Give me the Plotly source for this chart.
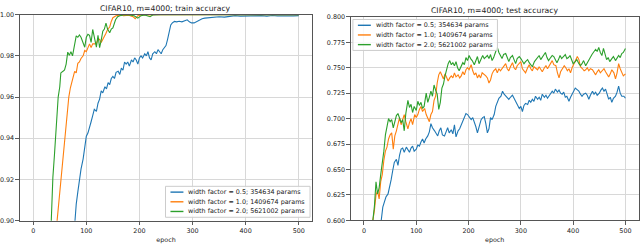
import plotly.graph_objects as go

# ---------------- data ----------------
LABELS = ["width factor = 0.5; 354634 params",
          "width factor = 1.0; 1409674 params",
          "width factor = 2.0; 5621002 params"]
COLORS = ["#1f77b4", "#ff7f0e", "#2ca02c"]

X_TICKS = [0, 100, 200, 300, 400, 500]
Y_TICKS_TRAIN = [0.90, 0.92, 0.94, 0.96, 0.98, 1.00]
Y_TICKS_TEST = [0.600, 0.625, 0.650, 0.675, 0.700, 0.725, 0.750, 0.775, 0.800]

# ---- train accuracy ----
train_ep_w05 = [0, 40, 60, 70, 78, 81, 84, 87, 90, 94, 97, 100,
                103, 106, 109, 112, 115, 119, 122, 125, 128, 131,
                135, 138, 141, 144, 147, 150, 153, 156, 160, 163,
                166, 169, 172, 175, 178, 181, 185, 188, 191, 194,
                197, 200, 203, 206, 210, 213, 216, 219, 222, 225,
                229, 232, 235, 238, 241, 244, 247, 250, 253, 256,
                259, 262, 266, 270, 275, 280, 285, 290, 294, 298,
                303, 308, 313, 318, 323, 330, 340, 350, 360, 370,
                380, 390, 400, 410, 420, 430, 440, 450, 460, 470,
                480, 490, 500]
train_acc_w05 = [0.40, 0.75, 0.83, 0.87, 0.900, 0.908, 0.914, 0.921, 0.925, 0.930, 0.936, 0.941,
                 0.9425, 0.946, 0.948, 0.951, 0.954, 0.953, 0.957, 0.959, 0.963, 0.962,
                 0.965, 0.964, 0.967, 0.966, 0.969, 0.970, 0.969, 0.972, 0.9725, 0.971,
                 0.974, 0.973, 0.977, 0.976, 0.977, 0.975, 0.978, 0.977, 0.979, 0.978,
                 0.976, 0.979, 0.980, 0.979, 0.981, 0.980, 0.982, 0.979, 0.978, 0.981,
                 0.982, 0.981, 0.983, 0.982, 0.981, 0.983, 0.984, 0.985, 0.988, 0.992,
                 0.995, 0.996, 0.9967, 0.9965, 0.9968, 0.9965, 0.997, 0.9975, 0.9965, 0.996,
                 0.996, 0.9968, 0.9972, 0.998, 0.9983, 0.9985, 0.9988, 0.999, 0.9988, 0.9992,
                 0.9995, 0.9993, 0.9994, 0.9996, 0.9994, 0.9995, 0.9993, 0.9996, 0.9994, 0.9993,
                 0.9995, 0.9994, 0.9995]

train_ep_w10 = [0, 20, 35, 45, 49, 53, 56, 59, 63, 67,
                70, 73, 76, 78, 81, 84, 87, 90, 94, 97,
                100, 103, 106, 109, 112, 116, 119, 122, 125, 128,
                131, 134, 137, 140, 144, 147, 150, 156, 160, 165,
                170, 180, 188, 192, 197, 205, 216, 230, 500]
train_acc_w10 = [0.30, 0.65, 0.83, 0.900, 0.911, 0.921, 0.930, 0.940, 0.950, 0.960,
                 0.9645, 0.9675, 0.970, 0.9725, 0.9717, 0.9764, 0.977, 0.9787, 0.980, 0.9826,
                 0.982, 0.984, 0.9858, 0.984, 0.9858, 0.9858, 0.986, 0.988, 0.988, 0.9865,
                 0.988, 0.9889, 0.991, 0.9928, 0.994, 0.9967, 0.9985, 0.9995, 0.9998, 0.9998,
                 0.9995, 0.9997, 0.999, 0.998, 0.9995, 0.9998, 0.9998, 1.0, 1.0]

train_ep_w20 = [0, 15, 25, 34, 37, 40, 42, 44, 47, 50,
                52, 56, 59, 62, 65, 68, 71, 74, 77, 81,
                84, 87, 90, 93, 97, 100, 103, 106, 109, 112,
                116, 119, 122, 125, 128, 131, 134, 137, 140, 144,
                147, 150, 155, 159, 163, 170, 180, 190, 197, 203,
                210, 220, 225, 240, 500]
train_acc_w20 = [0.30, 0.65, 0.82, 0.900, 0.921, 0.932, 0.940, 0.950, 0.960, 0.965,
                 0.9717, 0.9725, 0.9732, 0.976, 0.9818, 0.9803, 0.982, 0.980, 0.985, 0.9897,
                 0.989, 0.9901, 0.989, 0.9873, 0.9842, 0.989, 0.9905, 0.990, 0.9865, 0.9928,
                 0.988, 0.9842, 0.990, 0.984, 0.9875, 0.992, 0.993, 0.9959, 0.993, 0.9912,
                 0.993, 0.9936, 0.9975, 0.999, 0.9995, 0.9998, 0.9998, 0.9995, 0.9983, 0.9995,
                 0.9998, 0.999, 0.9998, 1.0, 1.0]

# ---- test accuracy ----
test_ep_w05 = [0, 15, 25, 33, 36, 39, 42, 46, 49, 52,
               55, 58, 62, 65, 68, 71, 74, 77, 81, 84,
               87, 90, 93, 96, 100, 103, 106, 109, 112, 115,
               118, 122, 125, 128, 131, 135, 138, 141, 144, 147,
               150, 154, 157, 160, 163, 167, 170, 173, 176, 180,
               183, 186, 189, 192, 195, 198, 201, 205, 208, 211,
               214, 217, 220, 224, 227, 230, 233, 236, 239, 242,
               245, 249, 252, 255, 258, 262, 265, 268, 271, 274,
               277, 280, 284, 287, 290, 293, 297, 300, 303, 306,
               309, 313, 316, 319, 322, 325, 328, 332, 335, 338,
               341, 345, 348, 351, 354, 357, 360, 363, 366, 370,
               373, 376, 379, 382, 385, 388, 392, 395, 398, 401,
               404, 408, 411, 414, 417, 420, 424, 427, 430, 433,
               437, 440, 443, 446, 450, 453, 456, 459, 462, 465,
               468, 471, 474, 477, 481, 484, 487, 490, 493, 497,
               500]
test_acc_w05 = [0.45, 0.54, 0.58, 0.600, 0.613, 0.619, 0.623, 0.626, 0.632, 0.640,
                0.649, 0.657, 0.660, 0.654, 0.664, 0.670, 0.671, 0.667, 0.672, 0.670,
                0.667, 0.671, 0.673, 0.668, 0.670, 0.674, 0.673, 0.677, 0.680, 0.676,
                0.680, 0.683, 0.687, 0.695, 0.691, 0.688, 0.685, 0.683, 0.688, 0.691,
                0.684, 0.683, 0.687, 0.691, 0.686, 0.689, 0.685, 0.694, 0.682, 0.688,
                0.690, 0.694, 0.697, 0.700, 0.705, 0.704, 0.702, 0.699, 0.701, 0.697,
                0.692, 0.686, 0.693, 0.699, 0.701, 0.702, 0.695, 0.686, 0.690, 0.701,
                0.699, 0.704, 0.712, 0.716, 0.720, 0.722, 0.727, 0.724, 0.722, 0.720,
                0.719, 0.721, 0.723, 0.720, 0.717, 0.715, 0.710, 0.712, 0.707, 0.713,
                0.715, 0.714, 0.718, 0.716, 0.719, 0.717, 0.722, 0.719, 0.721, 0.718,
                0.724, 0.721, 0.723, 0.720, 0.722, 0.725, 0.727, 0.725, 0.729, 0.726,
                0.728, 0.725, 0.724, 0.726, 0.721, 0.722, 0.717, 0.721, 0.725, 0.727,
                0.730, 0.728, 0.727, 0.724, 0.722, 0.724, 0.725, 0.723, 0.719, 0.723,
                0.727, 0.724, 0.726, 0.723, 0.725, 0.728, 0.730, 0.727, 0.729, 0.724,
                0.719, 0.721, 0.716, 0.720, 0.722, 0.726, 0.732, 0.725, 0.722, 0.722,
                0.720]

test_ep_w10 = [0, 10, 17, 20, 23, 26, 29, 32, 35, 38,
               41, 44, 47, 50, 53, 56, 59, 62, 65, 68,
               71, 74, 77, 80, 84, 87, 90, 93, 97, 100,
               103, 106, 109, 112, 116, 119, 122, 125, 128, 131,
               134, 137, 140, 143, 146, 149, 152, 155, 158, 161,
               164, 167, 170, 173, 176, 180, 183, 186, 189, 192,
               195, 198, 201, 205, 208, 211, 214, 217, 220, 223,
               226, 229, 233, 236, 239, 242, 245, 248, 252, 255,
               258, 261, 265, 268, 271, 274, 277, 280, 284, 287,
               290, 293, 297, 300, 303, 306, 309, 313, 316, 319,
               322, 325, 329, 332, 335, 338, 341, 345, 348, 351,
               354, 357, 360, 363, 367, 370, 373, 376, 379, 383,
               386, 389, 392, 395, 398, 401, 405, 408, 411, 414,
               418, 421, 424, 427, 430, 433, 437, 440, 443, 446,
               449, 452, 456, 459, 462, 465, 468, 471, 474, 478,
               481, 484, 487, 490, 493, 496, 500]
test_acc_w10 = [0.42, 0.53, 0.600, 0.610, 0.625, 0.629, 0.621, 0.638, 0.645, 0.659,
                0.668, 0.672, 0.680, 0.684, 0.686, 0.670, 0.683, 0.688, 0.694, 0.701,
                0.694, 0.699, 0.704, 0.697, 0.690, 0.696, 0.700, 0.694, 0.704, 0.701,
                0.704, 0.709, 0.712, 0.707, 0.710, 0.704, 0.701, 0.697, 0.704, 0.707,
                0.718, 0.722, 0.735, 0.743, 0.746, 0.742, 0.739, 0.744, 0.741, 0.737,
                0.740, 0.742, 0.740, 0.745, 0.741, 0.743, 0.740, 0.742, 0.746, 0.743,
                0.748, 0.750, 0.748, 0.753, 0.747, 0.743, 0.745, 0.740, 0.743, 0.740,
                0.745, 0.744, 0.742, 0.740, 0.735, 0.738, 0.744, 0.747, 0.749, 0.745,
                0.749, 0.747, 0.750, 0.752, 0.754, 0.749, 0.747, 0.751, 0.755, 0.750,
                0.748, 0.752, 0.755, 0.756, 0.749, 0.747, 0.745, 0.750, 0.753, 0.749,
                0.747, 0.751, 0.749, 0.748, 0.751, 0.748, 0.746, 0.750, 0.752, 0.749,
                0.752, 0.755, 0.757, 0.753, 0.752, 0.745, 0.740, 0.746, 0.749, 0.752,
                0.750, 0.747, 0.749, 0.745, 0.750, 0.753, 0.757, 0.761, 0.758, 0.751,
                0.749, 0.747, 0.748, 0.750, 0.747, 0.749, 0.748, 0.745, 0.743, 0.746,
                0.748, 0.745, 0.747, 0.749, 0.746, 0.744, 0.741, 0.744, 0.748, 0.745,
                0.739, 0.745, 0.754, 0.749, 0.746, 0.742, 0.744]

test_ep_w20 = [0, 10, 17, 20, 23, 26, 29, 32, 35, 38,
               41, 44, 47, 50, 53, 56, 59, 62, 65, 68,
               71, 74, 77, 80, 84, 87, 90, 93, 96, 100,
               103, 106, 109, 112, 115, 119, 122, 125, 128, 131,
               134, 137, 140, 143, 146, 149, 152, 155, 158, 161,
               164, 167, 170, 173, 176, 179, 182, 186, 189, 192,
               195, 198, 201, 204, 207, 211, 214, 217, 220, 223,
               227, 230, 233, 236, 239, 242, 245, 248, 252, 255,
               258, 261, 264, 267, 271, 274, 277, 280, 284, 287,
               290, 293, 297, 300, 303, 306, 309, 313, 316, 319,
               322, 326, 329, 332, 335, 338, 341, 344, 347, 350,
               353, 357, 360, 363, 366, 369, 372, 375, 378, 382,
               385, 388, 391, 394, 397, 400, 404, 407, 411, 414,
               417, 420, 424, 427, 430, 433, 436, 440, 443, 446,
               449, 452, 455, 458, 461, 464, 467, 470, 474, 477,
               481, 484, 487, 490, 493, 496, 500]
test_acc_w20 = [0.40, 0.52, 0.600, 0.614, 0.638, 0.626, 0.632, 0.645, 0.655, 0.668,
                0.684, 0.694, 0.700, 0.697, 0.699, 0.691, 0.698, 0.703, 0.705, 0.701,
                0.696, 0.699, 0.688, 0.705, 0.718, 0.711, 0.714, 0.706, 0.712, 0.708,
                0.717, 0.713, 0.716, 0.710, 0.712, 0.725, 0.716, 0.721, 0.727, 0.722,
                0.733, 0.728, 0.724, 0.709, 0.716, 0.730, 0.734, 0.742, 0.748, 0.754,
                0.757, 0.753, 0.755, 0.752, 0.756, 0.750, 0.747, 0.752, 0.755, 0.753,
                0.760, 0.757, 0.762, 0.759, 0.757, 0.753, 0.758, 0.761, 0.754, 0.757,
                0.762, 0.759, 0.761, 0.762, 0.759, 0.763, 0.757, 0.760, 0.766, 0.770,
                0.765, 0.762, 0.759, 0.763, 0.764, 0.760, 0.756, 0.760, 0.762, 0.758,
                0.754, 0.759, 0.761, 0.759, 0.757, 0.754, 0.756, 0.758, 0.755, 0.753,
                0.751, 0.756, 0.758, 0.761, 0.762, 0.758, 0.760, 0.763, 0.765, 0.760,
                0.757, 0.760, 0.762, 0.761, 0.758, 0.755, 0.758, 0.762, 0.759, 0.761,
                0.763, 0.759, 0.760, 0.762, 0.758, 0.754, 0.756, 0.758, 0.754, 0.752,
                0.754, 0.757, 0.752, 0.755, 0.758, 0.761, 0.763, 0.766, 0.768, 0.766,
                0.770, 0.765, 0.762, 0.769, 0.764, 0.758, 0.760, 0.756, 0.759, 0.761,
                0.757, 0.760, 0.762, 0.760, 0.764, 0.765, 0.769]

TRAIN_TITLE = "CIFAR10, m=4000; train accuracy"
TEST_TITLE = "CIFAR10, m=4000; test accuracy"
X_LABEL = "epoch"

train_series = [(train_ep_w05, train_acc_w05), (train_ep_w10, train_acc_w10), (train_ep_w20, train_acc_w20)]
test_series = [(test_ep_w05, test_acc_w05), (test_ep_w10, test_acc_w10), (test_ep_w20, test_acc_w20)]
for ex, ey in train_series + test_series:
    assert len(ex) == len(ey), (len(ex), len(ey))

# ---------------- figure ----------------
W, H = 640, 244
FONT = "DejaVu Sans"
fig = go.Figure()

for (ex, ey), col, lab in zip(train_series, COLORS, LABELS):
    fig.add_trace(go.Scatter(x=ex, y=ey, mode="lines", name=lab, showlegend=False,
                             line=dict(color=col, width=1.1), xaxis="x", yaxis="y"))
for (ex, ey), col, lab in zip(test_series, COLORS, LABELS):
    fig.add_trace(go.Scatter(x=ex, y=ey, mode="lines", name=lab, showlegend=False,
                             line=dict(color=col, width=1.1), xaxis="x2", yaxis="y2"))

def px_x(p):
    return p / W

def px_y(p):
    return 1 - p / H

tickfont = dict(family=FONT, size=6.4, color="#222")
common_ax = dict(showline=True, linecolor="#555", linewidth=1, mirror=True,
                 showgrid=True, gridcolor="#d8d8d8", gridwidth=1, zeroline=False,
                 ticks="outside", ticklen=3.5, tickwidth=0.8, tickcolor="#333",
                 tickfont=tickfont, layer="above traces")

fig.update_layout(
    width=W, height=H, margin=dict(l=0, r=0, t=0, b=0),
    paper_bgcolor="white", plot_bgcolor="white",
    font=dict(family=FONT, size=6.4, color="#222"),
    xaxis=dict(domain=[px_x(19), px_x(312)], range=[-25, 525], tickvals=X_TICKS,
               anchor="y", title=dict(text=X_LABEL, font=tickfont, standoff=4), **common_ax),
    yaxis=dict(domain=[px_y(224), px_y(11)], range=[0.90, 1.00], tickvals=Y_TICKS_TRAIN,
               tickformat=".2f", anchor="x", **common_ax),
    xaxis2=dict(domain=[px_x(351), px_x(639.5)], range=[-25, 525], tickvals=X_TICKS,
                anchor="y2", title=dict(text=X_LABEL, font=tickfont, standoff=4), **common_ax),
    yaxis2=dict(domain=[px_y(223.7), px_y(13.3)], range=[0.6, 0.8], tickvals=Y_TICKS_TEST,
                tickformat=".3f", anchor="x2", **common_ax),
)

# titles
for xr, yr, txt in [("x domain", "y domain", TRAIN_TITLE), ("x2 domain", "y2 domain", TEST_TITLE)]:
    fig.add_annotation(text=txt, xref=xr, yref=yr, x=0.5, y=1, xanchor="center", yanchor="bottom",
                       yshift=0, showarrow=False, font=dict(family=FONT, size=7.7, color="#222"))

# legends (box + line samples + labels)
def draw_legend(left, top, width=145, height=32, rows=(6, 16, 26)):
    fig.add_shape(type="rect", xref="paper", yref="paper",
                  x0=px_x(left), x1=px_x(left + width), y0=px_y(top + height), y1=px_y(top),
                  line=dict(color="#cccccc", width=1), fillcolor="rgba(255,255,255,0.85)", layer="above")
    for r, col, lab in zip(rows, COLORS, LABELS):
        fig.add_shape(type="line", xref="paper", yref="paper",
                      x0=px_x(left + 5), x1=px_x(left + 18), y0=px_y(top + r), y1=px_y(top + r),
                      line=dict(color=col, width=1.4), layer="above")
        fig.add_annotation(text=lab, xref="paper", yref="paper", x=px_x(left + 21), y=px_y(top + r),
                           xanchor="left", yanchor="middle", showarrow=False,
                           font=dict(family=FONT, size=6.4, color="#222"))

draw_legend(165, 188.5)
draw_legend(353, 16)

# remove the default page margin so the 640x244 figure fills the window exactly
fig.write_html("out.html",
               config={"displayModeBar": False, "staticPlot": True},
               post_script="document.body.style.margin='0';document.body.style.overflow='hidden';")
